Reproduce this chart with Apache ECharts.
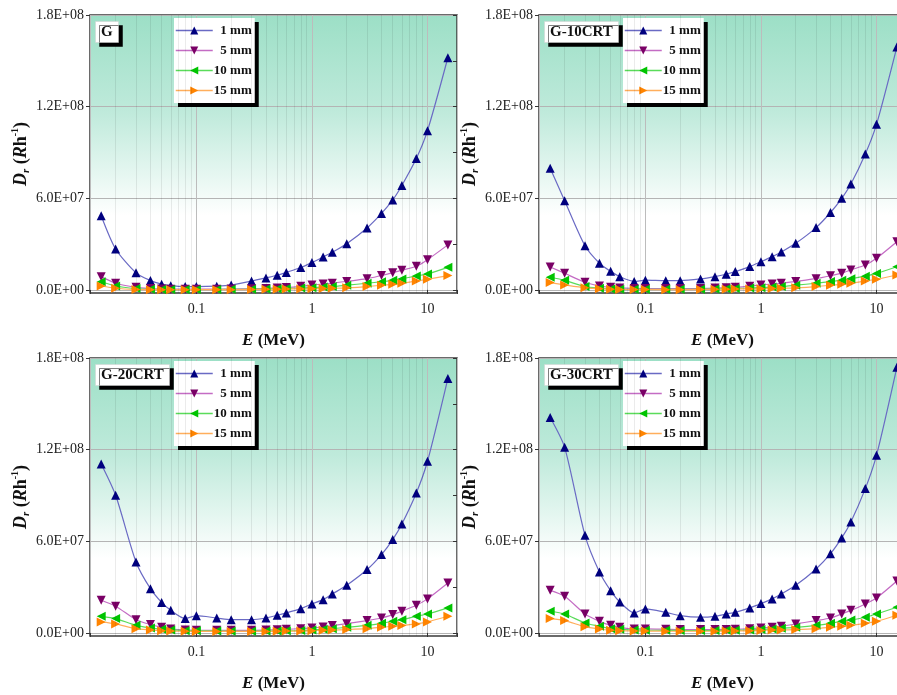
<!DOCTYPE html>
<html lang="en">
<head>
<meta charset="UTF-8">
<title>Dr vs E</title>
<style>
  * { margin: 0; padding: 0; }
  html, body { width: 100%; height: 100%; background: #fff; }
  #chart { width: 897px; height: 695px; }
</style>
</head>
<body>
<div id="chart"></div>
<script src="https://cdn.jsdelivr.net/npm/echarts@6/dist/echarts.min.js"></script>
<script>
// photon energy (MeV)
var energy = [0.015, 0.02, 0.03, 0.04, 0.05, 0.06, 0.08, 0.1, 0.15, 0.2, 0.3, 0.4, 0.5, 0.6, 0.8, 1, 1.25, 1.5, 2, 3, 4, 5, 6, 8, 10, 15];
var thicknessNames = ['1 mm', '5 mm', '10 mm', '15 mm'];
var panelNames = ['G', 'G-10CRT', 'G-20CRT', 'G-30CRT'];

// Dr (Rh^-1), panel G
var G_1mm  = [4.86e7, 2.68e7, 1.12e7, 6.2e6, 3.8e6, 2.8e6, 2.2e6, 2.2e6, 2.5e6, 3.2e6, 5.8e6, 7.9e6, 9.6e6, 1.15e7, 1.47e7, 1.8e7, 2.16e7, 2.47e7, 3.03e7, 4.06e7, 5.01e7, 5.89e7, 6.84e7, 8.6e7, 1.043e8, 1.52e8];
var G_5mm  = [8.7e6, 4.4e6, 1.7e6, 9e5, 6e5, 5e5, 5e5, 5e5, 5e5, 6e5, 8e5, 1.0e6, 1.3e6, 1.6e6, 2.4e6, 3.2e6, 3.9e6, 4.4e6, 5.6e6, 7.4e6, 9.5e6, 1.12e7, 1.29e7, 1.55e7, 1.98e7, 2.95e7];
var G_10mm = [5.4e6, 2.6e6, 9e5, 4e5, 3e5, 3e5, 3e5, 3e5, 3e5, 4e5, 5e5, 6e5, 8e5, 1.0e6, 1.2e6, 1.5e6, 1.9e6, 2.2e6, 3.1e6, 4.4e6, 5.4e6, 6.3e6, 7.2e6, 9.2e6, 1.05e7, 1.48e7];
var G_15mm = [2.6e6, 1.1e6, 3e5, 2e5, 2e5, 2e5, 2e5, 2e5, 2e5, 2e5, 3e5, 4e5, 5e5, 6e5, 7e5, 8e5, 1.0e6, 1.1e6, 1.4e6, 2.2e6, 3.1e6, 3.7e6, 4.4e6, 5.9e6, 7.0e6, 9.4e6];

// panel G-10CRT
var G10_1mm  = [7.96e7, 5.84e7, 2.89e7, 1.75e7, 1.22e7, 8.7e6, 5.6e6, 6.4e6, 6.1e6, 6.1e6, 7.2e6, 8.7e6, 1.03e7, 1.2e7, 1.53e7, 1.85e7, 2.18e7, 2.48e7, 3.05e7, 4.08e7, 5.07e7, 6.0e7, 6.94e7, 8.9e7, 1.084e8, 1.59e8];
var G10_5mm  = [1.5e7, 1.09e7, 5.0e6, 2.6e6, 1.7e6, 1.3e6, 1.0e6, 9e5, 9e5, 9e5, 1.0e6, 1.2e6, 1.4e6, 1.7e6, 2.5e6, 3.3e6, 3.9e6, 4.4e6, 5.6e6, 7.4e6, 9.3e6, 1.1e7, 1.31e7, 1.63e7, 2.07e7, 3.15e7];
var G10_10mm = [8.3e6, 6.3e6, 2.2e6, 1.1e6, 7e5, 5e5, 4e5, 4e5, 4e5, 4e5, 5e5, 6e5, 8e5, 1.0e6, 1.2e6, 1.5e6, 1.9e6, 2.2e6, 3.1e6, 4.4e6, 5.5e6, 6.4e6, 7.3e6, 9.0e6, 1.08e7, 1.52e7];
var G10_15mm = [4.8e6, 3.3e6, 1.4e6, 8e5, 4e5, 3e5, 3e5, 3e5, 2e5, 2e5, 3e5, 4e5, 5e5, 6e5, 7e5, 8e5, 1.0e6, 1.1e6, 1.4e6, 2.2e6, 3.1e6, 3.7e6, 4.4e6, 5.9e6, 7.0e6, 9.8e6];

// panel G-20CRT
var G20_1mm  = [1.106e8, 9.01e7, 4.65e7, 2.9e7, 2.0e7, 1.48e7, 9.4e6, 1.13e7, 9.8e6, 8.7e6, 8.7e6, 9.8e6, 1.16e7, 1.31e7, 1.59e7, 1.9e7, 2.18e7, 2.55e7, 3.12e7, 4.15e7, 5.13e7, 6.11e7, 7.13e7, 9.16e7, 1.124e8, 1.665e8];
var G20_5mm  = [2.14e7, 1.75e7, 8.7e6, 5.5e6, 3.7e6, 2.6e6, 2.0e6, 1.7e6, 1.7e6, 1.7e6, 1.7e6, 1.9e6, 2.1e6, 2.4e6, 2.8e6, 3.3e6, 3.9e6, 4.8e6, 6.1e6, 8.1e6, 9.8e6, 1.2e7, 1.42e7, 1.81e7, 2.23e7, 3.27e7];
var G20_10mm = [1.09e7, 9.4e6, 5.0e6, 3.3e6, 2.4e6, 2.0e6, 1.5e6, 1.4e6, 1.2e6, 1.1e6, 1.1e6, 1.2e6, 1.3e6, 1.4e6, 1.6e6, 2.0e6, 2.4e6, 2.8e6, 3.7e6, 5.0e6, 6.3e6, 7.6e6, 8.7e6, 1.09e7, 1.24e7, 1.64e7];
var G20_15mm = [7.2e6, 5.9e6, 2.8e6, 2.0e6, 1.5e6, 1.2e6, 1.1e6, 1.0e6, 1.0e6, 1.0e6, 1.0e6, 1.0e6, 1.1e6, 1.2e6, 1.3e6, 1.5e6, 1.7e6, 1.9e6, 2.2e6, 2.8e6, 3.7e6, 4.4e6, 4.8e6, 5.9e6, 7.2e6, 1.09e7];

// panel G-30CRT
var G30_1mm  = [1.41e8, 1.215e8, 6.39e7, 3.99e7, 2.77e7, 2.03e7, 1.31e7, 1.57e7, 1.35e7, 1.13e7, 1.03e7, 1.09e7, 1.24e7, 1.35e7, 1.64e7, 1.92e7, 2.23e7, 2.55e7, 3.12e7, 4.19e7, 5.19e7, 6.22e7, 7.27e7, 9.45e7, 1.163e8, 1.739e8];
var G30_5mm  = [2.79e7, 2.4e7, 1.24e7, 7.6e6, 5.0e6, 3.7e6, 2.6e6, 2.6e6, 2.4e6, 2.2e6, 2.2e6, 2.2e6, 2.3e6, 2.4e6, 2.8e6, 3.3e6, 3.7e6, 4.4e6, 5.9e6, 8.1e6, 9.8e6, 1.24e7, 1.48e7, 1.9e7, 2.29e7, 3.4e7];
var G30_10mm = [1.42e7, 1.24e7, 6.5e6, 4.4e6, 2.8e6, 2.4e6, 1.9e6, 1.8e6, 1.7e6, 1.6e6, 1.6e6, 1.6e6, 1.7e6, 1.8e6, 2.0e6, 2.2e6, 2.6e6, 3.0e6, 3.7e6, 5.0e6, 6.3e6, 7.6e6, 8.5e6, 1.03e7, 1.24e7, 1.68e7];
var G30_15mm = [9.4e6, 8.1e6, 4.1e6, 2.6e6, 1.8e6, 1.5e6, 1.3e6, 1.2e6, 1.1e6, 1.1e6, 1.1e6, 1.1e6, 1.2e6, 1.3e6, 1.4e6, 1.6e6, 1.9e6, 2.0e6, 2.2e6, 2.8e6, 3.7e6, 4.4e6, 5.0e6, 6.3e6, 7.6e6, 1.16e7];

// axis ticks
var yTicks = [0, 6e7, 1.2e8, 1.8e8];
var yTicksRight = [0, 3e7, 6e7, 9e7, 1.2e8, 1.5e8, 1.8e8];
var xMinorTicks = [0.02, 0.03, 0.04, 0.05, 0.06, 0.07, 0.08, 0.09, 0.2, 0.3, 0.4, 0.5, 0.6, 0.7, 0.8, 0.9, 2, 3, 4, 5, 6, 7, 8, 9];

var panelData = [
  [G_1mm, G_5mm, G_10mm, G_15mm],
  [G10_1mm, G10_5mm, G10_10mm, G10_15mm],
  [G20_1mm, G20_5mm, G20_10mm, G20_15mm],
  [G30_1mm, G30_5mm, G30_10mm, G30_15mm]
];

var serif = 'Liberation Serif';
var markerColors = ['#00007f', '#7a0066', '#00c400', '#ff8400'];
var lineColors = ['#6a6ac4', '#c46cc4', '#5adc5a', '#ffae5c'];
var markerRotate = [0, 180, 90, -90];
var panelPos = [
  { left: 90, top: 15 },
  { left: 539, top: 15 },
  { left: 90, top: 358 },
  { left: 539, top: 358 }
];

function sci(v) {
  var p = v.toExponential(1).split('e');
  var e = parseInt(p[1], 10);
  var s = e < 0 ? '-' : '+';
  e = Math.abs(e);
  return p[0] + 'E' + s + (e < 10 ? '0' + e : e);
}

var bg = {
  type: 'linear', x: 0, y: 0, x2: 0, y2: 1,
  colorStops: [
    { offset: 0, color: '#9cdfc6' },
    { offset: 0.35, color: '#bfeadb' },
    { offset: 0.72, color: '#ffffff' },
    { offset: 1, color: '#ffffff' }
  ]
};

var grid = [], xAxis = [], yAxis = [], series = [], title = [], legend = [];

panelPos.forEach(function (pos, p) {
  grid.push({
    left: pos.left, top: pos.top, width: 367, height: 278,
    outerBoundsMode: 'none', containLabel: false,
    show: true, backgroundColor: bg, borderColor: '#3a3a3a', borderWidth: 1.5
  });

  xAxis.push({
    type: 'log', gridIndex: p, position: 'bottom', min: 0.012, max: 18,
    axisLine: { show: false },
    axisTick: { show: true, length: 4, lineStyle: { color: '#333' } },
    axisLabel: { showMinLabel: false, showMaxLabel: false, fontFamily: serif, fontSize: 14, color: '#222', margin: 9 },
    splitLine: { show: true, lineStyle: { color: '#bcbcbc', width: 1 } },
    name: '{i|E} (MeV)', nameLocation: 'middle', nameGap: 39,
    nameTextStyle: {
      fontFamily: serif, fontWeight: 'bold', fontSize: 17, color: '#111',
      rich: { i: { fontFamily: serif, fontWeight: 'bold', fontStyle: 'italic', fontSize: 17, color: '#111' } }
    }
  });
  xAxis.push({
    type: 'log', gridIndex: p, position: 'top', min: 0.012, max: 18,
    axisLine: { show: false },
    axisTick: { show: true, inside: true, length: 4, lineStyle: { color: '#333' } },
    axisLabel: { show: false }, splitLine: { show: false }
  });

  yAxis.push({
    type: 'value', gridIndex: p, position: 'left', min: -2e6, max: 1.8e8,
    axisLine: { show: false },
    axisTick: { show: true, length: 4, customValues: yTicks, lineStyle: { color: '#333' } },
    axisLabel: { customValues: yTicks, formatter: sci, fontFamily: serif, fontSize: 14, color: '#222', margin: 6 },
    splitLine: { show: true, lineStyle: { color: '#b4b4b4', width: 1 } },
    name: '{d|D}{s|r}{n| (}{d|R}{n|h}{p|-1}{n|)}', nameLocation: 'middle', nameGap: 56, nameRotate: 90,
    nameTextStyle: {
      fontFamily: serif, fontWeight: 'bold', fontSize: 18, color: '#111',
      rich: {
        d: { fontFamily: serif, fontWeight: 'bold', fontStyle: 'italic', fontSize: 18, lineHeight: 22, color: '#111' },
        n: { fontFamily: serif, fontWeight: 'bold', fontSize: 18, lineHeight: 22, color: '#111' },
        s: { fontFamily: serif, fontWeight: 'bold', fontStyle: 'italic', fontSize: 11, lineHeight: 12, verticalAlign: 'bottom', color: '#111' },
        p: { fontFamily: serif, fontWeight: 'bold', fontSize: 10, lineHeight: 12, verticalAlign: 'top', color: '#111' }
      }
    }
  });
  yAxis.push({
    type: 'value', gridIndex: p, position: 'right', min: -2e6, max: 1.8e8,
    axisLine: { show: false },
    axisTick: { show: true, inside: true, length: 4, customValues: yTicksRight, lineStyle: { color: '#333' } },
    axisLabel: { show: false }, splitLine: { show: false }
  });

  title.push({
    text: panelNames[p], left: pos.left + 5, top: pos.top + 6,
    padding: [4, 6, 3, 6], backgroundColor: '#fff', borderColor: '#d0d0d0', borderWidth: 0.5,
    shadowColor: '#000', shadowOffsetX: 4, shadowOffsetY: 4, shadowBlur: 0,
    textStyle: { fontFamily: serif, fontWeight: 'bold', fontSize: 15, color: '#111' }
  });

  legend.push({
    left: pos.left + 84, top: pos.top + 3, orient: 'vertical', data: thicknessNames,
    itemWidth: 37, itemHeight: 10, itemGap: 7, padding: [6, 3, 6, 1],
    backgroundColor: '#fff', shadowColor: '#000', shadowOffsetX: 4, shadowOffsetY: 4, shadowBlur: 0,
    selectedMode: false,
    lineStyle: { type: 'solid', width: 1.5 },
    formatter: function (name) { return '{t|' + name + '}'; },
    textStyle: {
      rich: { t: { width: 34, align: 'right', fontFamily: serif, fontWeight: 'bold', fontSize: 13, lineHeight: 16, color: '#111' } }
    }
  });

  panelData[p].forEach(function (vals, k) {
    var s = {
      type: 'line', name: thicknessNames[k],
      xAxisIndex: 2 * p, yAxisIndex: 2 * p,
      data: energy.map(function (e, j) { return [e, vals[j]]; }),
      smooth: 0.25,
      symbol: 'triangle', symbolSize: 9, symbolRotate: markerRotate[k],
      itemStyle: { color: markerColors[k] },
      lineStyle: { color: lineColors[k], width: 1.2, type: 'solid' },
      emphasis: { disabled: true }
    };
    if (k === 0) {
      // light minor grid lines of the log axis
      s.markLine = {
        silent: true, symbol: ['none', 'none'], animation: false,
        label: { show: false },
        lineStyle: { color: 'rgba(0,0,0,0.08)', width: 1, type: 'solid' },
        data: xMinorTicks.map(function (v) { return { xAxis: v }; })
      };
    }
    series.push(s);
  });
});

var myChart = echarts.init(document.getElementById('chart'));
myChart.setOption({
  animation: false,
  backgroundColor: '#fff',
  title: title,
  legend: legend,
  grid: grid,
  xAxis: xAxis,
  yAxis: yAxis,
  series: series
});
</script>
</body>
</html>
